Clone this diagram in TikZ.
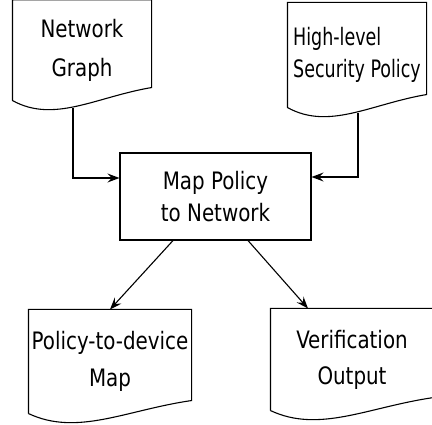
\documentclass[tikz,border=0pt]{standalone}
\usepackage{fontspec}
\setmainfont{DejaVu Sans Condensed}[FakeStretch=0.92]
\newfontfamily\narrowfont{DejaVu Sans Condensed}[FakeStretch=0.81]
\usetikzlibrary{calc, arrows.meta}

% outline of a document node: straight top and sides, wavy bottom
\newcommand{\docoutline}[1]{%
  \draw (#1.south west) -- (#1.north west) -- (#1.north east) -- ([yshift=13pt]#1.south east)
    .. controls ($(#1.south west)!0.6!(#1.south east)+(0,3.6pt)$)
    and ($(#1.south west)!0.3!(#1.south east)+(0,-23pt)$) .. (#1.south west);}

\begin{document}
\begin{tikzpicture}[x=1pt, y=-1pt, line width=1.1pt, >={Stealth[length=12pt,width=9pt,inset=4.5pt]},
  every node/.style={inner sep=0pt},
  docnode/.style={align=center},
  procnode/.style={draw, align=center, minimum width=191pt, minimum height=87pt},
  ]
  \useasboundingbox (0,0) rectangle (432,425);

  \node[docnode, minimum width=138pt, minimum height=99.5pt, font=\fontsize{24}{39}\selectfont] (net) at (82,50.25) {Network\\Graph};
  \node[docnode, align=left, minimum width=138pt, minimum height=104pt, font=\narrowfont\fontsize{24}{32}\selectfont] (policy) at (357,55) {High-level\\Security Policy};
  \node[procnode, font=\fontsize{24}{32}\selectfont] (map) at (215.5,196.5) {Map Policy\\to Network};
  \node[docnode, minimum width=162pt, minimum height=103pt, font=\fontsize{24}{37}\selectfont] (devmap) at (110,361.5) {Policy-to-device\\Map};
  \node[docnode, minimum width=162pt, minimum height=101pt, font=\fontsize{24}{36}\selectfont] (verif) at (352,359.5) {Verification\\Output};

  \docoutline{net}
  \docoutline{policy}
  \docoutline{devmap}
  \docoutline{verif}

  \draw[->] ([xshift=-9pt,yshift=-7pt]net.south) |- ([yshift=18.5pt]map.west);
  \draw[->] ([xshift=1pt,yshift=-5pt]policy.south) |- ([yshift=19.5pt]map.east);
  \draw[->] ([xshift=-42.5pt]map.south) -- (devmap.north);
  \draw[->] ([xshift=32.5pt]map.south) -- ([xshift=-44pt]verif.north);

\end{tikzpicture}
\end{document}
